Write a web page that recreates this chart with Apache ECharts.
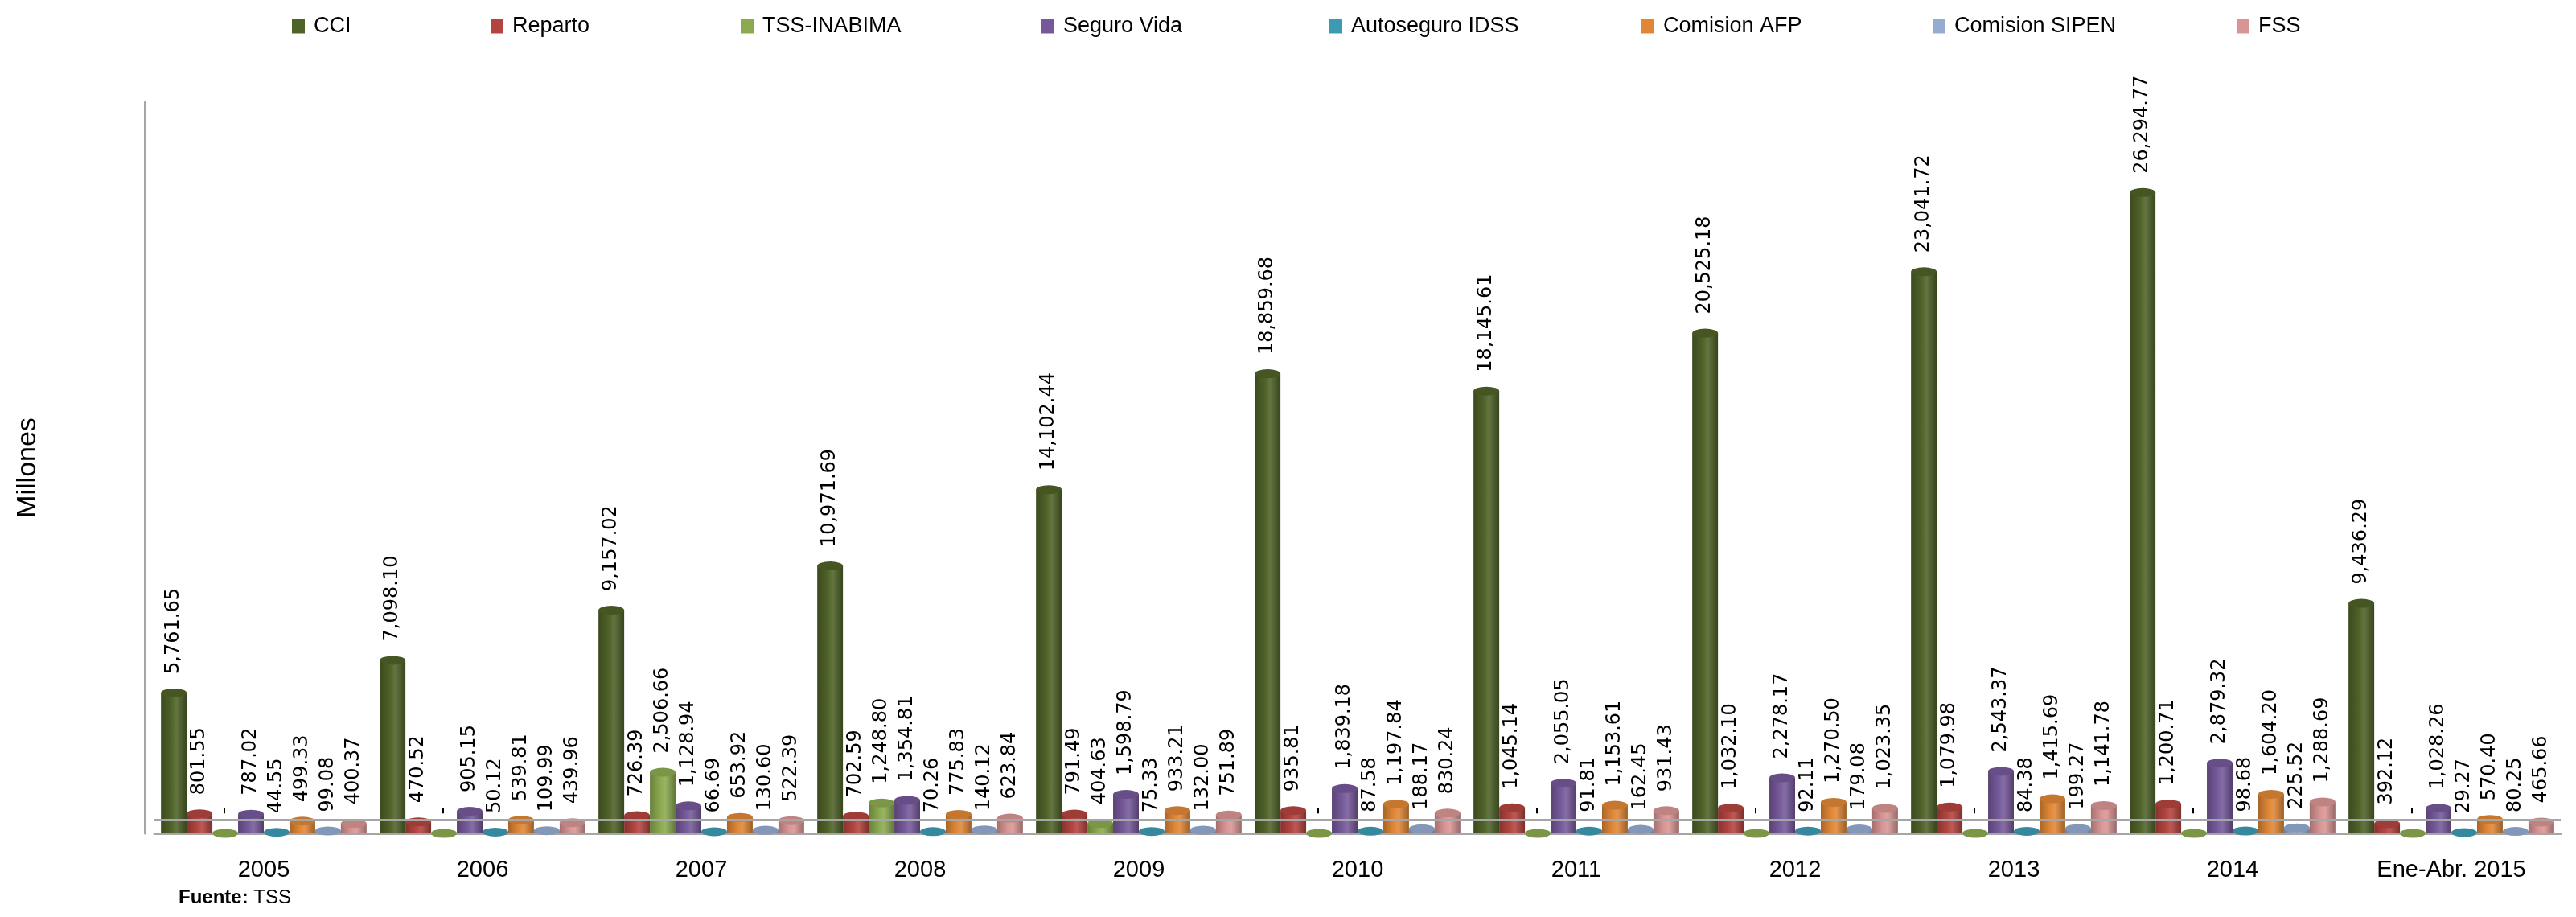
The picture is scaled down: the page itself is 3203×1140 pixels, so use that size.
<!DOCTYPE html>
<html>
<head>
<meta charset="utf-8">
<script src="https://cdn.jsdelivr.net/npm/echarts@6/dist/echarts.min.js"></script>
<style>
    html, body {margin: 0; padding: 0; background: #ffffff;}
    #main {width: 3203px; height: 1140px;}
</style>
</head>
<body>
<div id="main"></div>
<script>
// datos (millones)
var categories = ['2005', '2006', '2007', '2008', '2009', '2010', '2011', '2012', '2013', '2014', 'Ene-Abr. 2015'];
var seriesNames = ['CCI', 'Reparto', 'TSS-INABIMA', 'Seguro Vida', 'Autoseguro IDSS', 'Comision AFP', 'Comision SIPEN', 'FSS'];
var cci = [5761.65, 7098.10, 9157.02, 10971.69, 14102.44, 18859.68, 18145.61, 20525.18, 23041.72, 26294.77, 9436.29];
var reparto = [801.55, 470.52, 726.39, 702.59, 791.49, 935.81, 1045.14, 1032.10, 1079.98, 1200.71, 392.12];
var tssInabima = [0, 0, 2506.66, 1248.80, 404.63, 0, 0, 0, 0, 0, 0];
var seguroVida = [787.02, 905.15, 1128.94, 1354.81, 1598.79, 1839.18, 2055.05, 2278.17, 2543.37, 2879.32, 1028.26];
var autoseguroIdss = [44.55, 50.12, 66.69, 70.26, 75.33, 87.58, 91.81, 92.11, 84.38, 98.68, 29.27];
var comisionAfp = [499.33, 539.81, 653.92, 775.83, 933.21, 1197.84, 1153.61, 1270.50, 1415.69, 1604.20, 570.40];
var comisionSipen = [99.08, 109.99, 130.60, 140.12, 132.00, 188.17, 162.45, 179.08, 199.27, 225.52, 80.25];
var fss = [400.37, 439.96, 522.39, 623.84, 751.89, 830.24, 931.43, 1023.35, 1141.78, 1288.69, 465.66];

var chartData = [cci, reparto, tssInabima, seguroVida, autoseguroIdss, comisionAfp, comisionSipen, fss];
var colorBox = ['#4F6228', '#B3443F', '#8BAA4F', '#76599B', '#3C9AB2', '#E08736', '#95ACD1', '#D99594'];
var legendLeft = [358, 605, 916, 1290, 1648, 2036, 2398, 2776];

// aclarar / oscurecer color
function shade(hex, f) {
    var n = parseInt(hex.slice(1), 16);
    var r = (n >> 16) & 255, g = (n >> 8) & 255, b = n & 255;
    function c(v) {
        v = f < 0 ? v * (1 + f) : v + (255 - v) * f;
        return Math.max(0, Math.min(255, Math.round(v)));
    }
    return 'rgb(' + c(r) + ',' + c(g) + ',' + c(b) + ')';
}

function fmt(v) {
    if (!v) return '-';
    return v.toLocaleString('en-US', {minimumFractionDigits: 2, maximumFractionDigits: 2});
}

var chart = echarts.init(document.getElementById('main'));

var series = [];
var legends = [];
for (var i = 0; i < seriesNames.length; i++) {
    var base = colorBox[i];
    series.push({
        name: seriesNames[i],
        type: 'bar',
        data: chartData[i],
        barGap: '0%',
        barCategoryGap: '6%',
        z: 2,
        itemStyle: {
            color: new echarts.graphic.LinearGradient(0, 0, 1, 0, [
                {offset: 0, color: shade(base, -0.25)},
                {offset: 0.4, color: base},
                {offset: 0.6, color: shade(base, 0.12)},
                {offset: 1, color: shade(base, -0.3)}
            ])
        }
    });
    // tapa superior del cilindro + etiqueta
    series.push({
        name: seriesNames[i] + ' top',
        type: 'pictorialBar',
        data: chartData[i],
        barGap: '0%',
        barCategoryGap: '6%',
        symbol: 'circle',
        symbolSize: ['100%', 11],
        symbolPosition: 'end',
        symbolOffset: [0, '-50%'],
        z: 3,
        itemStyle: {color: shade(base, -0.12)},
        label: {
            show: true,
            position: 'top',
            rotate: 90,
            align: 'left',
            verticalAlign: 'middle',
            distance: 18,
            color: '#000',
            fontFamily: 'DejaVu Sans',
            fontSize: 24,
            formatter: function (p) { return fmt(p.value); }
        }
    });
    legends.push({
        data: [{name: seriesNames[i], icon: 'rect', itemStyle: {color: base}}],
        left: legendLeft[i],
        top: 14,
        itemWidth: 16,
        itemHeight: 18,
        textStyle: {fontFamily: 'Liberation Sans', fontSize: 27, color: '#000', padding: [0, 0, 0, 6]}
    });
}
// borde trasero del piso
series.push({
    type: 'line',
    data: [],
    z: 0,
    markLine: {
        silent: true,
        symbol: 'none',
        label: {show: false},
        lineStyle: {color: '#A6A6A6', width: 3, type: 'solid'},
        data: [{yAxis: 560}]
    }
});

var option = {
    backgroundColor: '#ffffff',
    animation: false,
    legend: legends,
    grid: {left: 192, right: 19, top: 127, bottom: 104},
    xAxis: {
        type: 'category',
        data: categories,
        axisLine: {show: true, lineStyle: {color: '#A6A6A6', width: 3}},
        axisTick: {show: false},
        axisLabel: {fontFamily: 'Liberation Sans', fontSize: 29, color: '#000', margin: 31}
    },
    yAxis: {
        type: 'value',
        min: 0,
        max: 30000,
        offset: 12,
        name: 'Millones',
        nameLocation: 'middle',
        nameGap: 128,
        nameTextStyle: {fontFamily: 'Liberation Sans', fontSize: 34, color: '#000'},
        axisLine: {show: true, lineStyle: {color: '#A6A6A6', width: 3}},
        axisTick: {show: false},
        axisLabel: {show: false},
        splitLine: {show: false}
    },
    graphic: [{
        type: 'text',
        left: 222,
        top: 1104,
        style: {
            text: '{b|Fuente:} TSS',
            fontFamily: 'Liberation Sans',
            fontSize: 24,
            fill: '#000',
            rich: {b: {fontWeight: 'bold', fontFamily: 'Liberation Sans', fontSize: 24}}
        }
    }],
    series: series
};
chart.setOption(option);
</script>
</body>
</html>
